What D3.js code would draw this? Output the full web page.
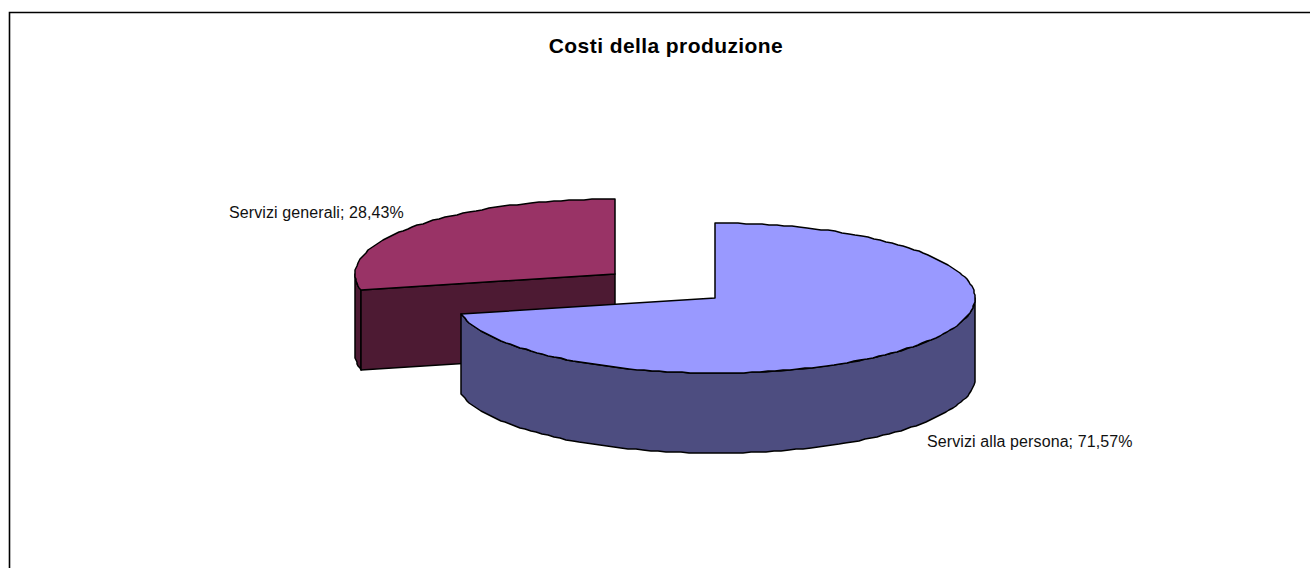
<!DOCTYPE html>
<html>
<head>
<meta charset="utf-8">
<script src="https://cdn.jsdelivr.net/npm/d3@7/dist/d3.min.js"></script>
<style>
    html, body { margin: 0; padding: 0; background: #fff; overflow: hidden; }
    svg { display: block; }
</style>
</head>
<body>
<div id="chart"></div>
<script>
// data
const categories = ['Servizi alla persona', 'Servizi generali'];
const shares = [71.57, 28.43];
const labels = ['Servizi alla persona; 71,57%', 'Servizi generali; 28,43%'];
const topColors = ['#9999ff', '#993366'];
const sideColors = ['#4d4d80', '#4d1a33'];

const width = 1310, height = 568;
const rx = 260, ry = 75, depth = 80;

const svg = d3.select('#chart').append('svg')
    .attr('width', width)
    .attr('height', height);

// chart frame, the right and bottom edges are cropped away
svg.append('path')
    .attr('d', `M9.5,${height}V12.5H${width}`)
    .attr('fill', 'none')
    .attr('stroke', '#000')
    .attr('stroke-width', 1.6);

// title
svg.append('text')
    .attr('x', 666)
    .attr('y', 53)
    .attr('text-anchor', 'middle')
    .style('font-family', '"Liberation Sans", Arial, sans-serif')
    .style('font-size', '21px')
    .style('font-weight', '700')
    .style('letter-spacing', '0.42px')
    .text('Costi della produzione');

// pie angles, starting at 12 o'clock
const pie = d3.pie().sort(null).value(d => d);
const arcs = pie(shares);

// tilted pie projection
const px = d3.scaleLinear().domain([-1, 1]).range([-rx, rx]);
const py = d3.scaleLinear().domain([-1, 1]).range([ry, -ry]);
const line = d3.line();

// rim points are snapped to whole pixels, this gives the rough edge of the original
function rim(a0, a1, cx, cy) {
    const n = Math.max(2, Math.ceil((a1 - a0) / 0.03));
    return d3.range(n + 1).map(i => {
        const a = a0 + (a1 - a0) * i / n;
        return [Math.round(cx + px(Math.sin(a))), Math.round(cy + py(Math.cos(a)))];
    });
}

function drawPoly(pts, fill) {
    svg.append('path')
        .attr('d', line(pts) + 'Z')
        .attr('fill', fill)
        .attr('stroke', '#000')
        .attr('stroke-width', 1.5)
        .attr('stroke-linejoin', 'round');
}

// slice centres: the small slice is pulled out up and to the left
const centers = [[715, 298], [615, 274]];

// back slice first
const red = arcs[1];
{
    const [cx, cy] = centers[1];
    const start = rim(red.startAngle, red.startAngle + 0.01, cx, cy)[0];
    // outer wall, only the part facing the viewer
    const wall = rim(red.startAngle, 1.5 * Math.PI, cx, cy);
    drawPoly(wall.concat(wall.slice().reverse().map(p => [p[0], p[1] + depth])), sideColors[1]);
    // cut face towards the viewer
    drawPoly([[cx, cy], start, [start[0], start[1] + depth], [cx, cy + depth]], sideColors[1]);
    drawPoly([[cx, cy]].concat(rim(red.startAngle, red.endAngle, cx, cy)), topColors[1]);
}

// front slice
const blue = arcs[0];
{
    const [cx, cy] = centers[0];
    const wall = rim(Math.PI / 2, blue.endAngle, cx, cy);
    drawPoly(wall.concat(wall.slice().reverse().map(p => [p[0], p[1] + depth])), sideColors[0]);
    drawPoly([[cx, cy]].concat(rim(blue.startAngle, blue.endAngle, cx, cy)), topColors[0]);
}

// data labels
const labelPos = [[927, 446.5], [229, 218]];
svg.selectAll('.label')
    .data(labels)
    .enter()
    .append('text')
    .attr('class', 'label')
    .attr('x', (d, i) => labelPos[i][0])
    .attr('y', (d, i) => labelPos[i][1])
    .style('font-family', '"Liberation Sans", Arial, sans-serif')
    .style('font-size', '16px')
    .style('letter-spacing', '0.1px')
    .style('fill', '#111')
    .text(d => d);
</script>
</body>
</html>
